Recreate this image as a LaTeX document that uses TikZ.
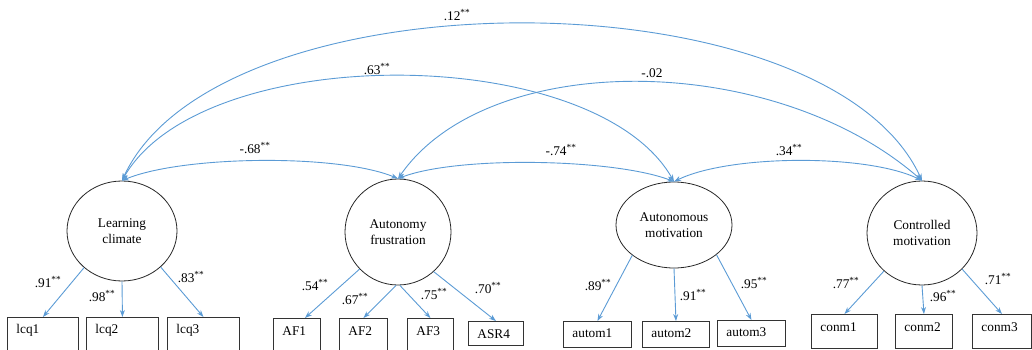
\documentclass[tikz,border=0pt]{standalone}
\usepackage{fontspec}
\setmainfont{Liberation Serif}
\usetikzlibrary{shapes.geometric,arrows.meta,calc}
\definecolor{arr}{RGB}{91,155,213}
\begin{document}
\begin{tikzpicture}[x=1pt,y=-1pt,
  latent/.style={draw=black!85, line width=0.8pt, ellipse, inner sep=0pt, align=center,
    font=\fontsize{13.3}{16}\selectfont},
  ind/.style n args={3}{draw=black!80, line width=0.9pt, rectangle, anchor=north west,
    inner xsep=9pt, inner ysep=0pt, text width=#1, align=left, text height=#2, text depth=#3,
    font=\fontsize{13.3}{16}\selectfont},
  lab/.style={inner sep=0pt, font=\fontsize{13.3}{16}\selectfont},
  load/.style={draw=arr, line width=0.9pt, -{Stealth[length=7pt,width=5pt]}},
  cov/.style={draw=arr, line width=0.9pt, {Stealth[length=7pt,width=5pt]}-{Stealth[length=7pt,width=5pt]}}
]
\useasboundingbox (0,0) rectangle (1032,350);
\clip (0,0) rectangle (1032,350);

% latent variables
\node[latent, minimum width=110pt, minimum height=100pt] (lc) at (122,231) {Learning\\climate};
\node[latent, minimum width=106pt, minimum height=106pt] (af) at (398,232) {Autonomy\\frustration};
\node[latent, minimum width=116pt, minimum height=86pt] (am) at (674,225) {Autonomous\\motivation};
\node[latent, minimum width=110pt, minimum height=104pt] (cm) at (922,233) {Controlled\\motivation};

% indicators
\node[ind={53pt}{16pt}{34pt}] (lcq1) at (7,317) {lcq1};
\node[ind={54pt}{16pt}{34pt}] (lcq2) at (86,317) {lcq2};
\node[ind={54pt}{16pt}{34pt}] (lcq3) at (167,317) {lcq3};
\node[ind={29pt}{17pt}{33pt}] (af1) at (273,318) {AF1};
\node[ind={30pt}{17pt}{33pt}] (af2) at (339,318) {AF2};
\node[ind={28pt}{17pt}{33pt}] (af3) at (407,318) {AF3};
\node[ind={37pt}{17pt}{7pt}] (asr4) at (468,321) {ASR4};
\node[ind={50pt}{16pt}{10pt}] (autom1) at (563,321) {autom1};
\node[ind={49pt}{16pt}{10pt}] (autom2) at (642,321) {autom2};
\node[ind={50pt}{16pt}{10pt}] (autom3) at (717,320) {autom3};
\node[ind={48pt}{17pt}{17pt}] (conm1) at (811,314) {conm1};
\node[ind={39pt}{17pt}{17pt}] (conm2) at (895,314) {conm2};
\node[ind={41pt}{17pt}{17pt}] (conm3) at (972,314) {conm3};

% loadings
\draw[load] (lc.224) -- (lcq1.north);
\draw[load] (lc.270) -- (lcq2.north);
\draw[load] (lc.317) -- (lcq3.north);
\draw[load] (af.224) -- ([xshift=8pt]af1.north);
\draw[load] (af.268) -- (af2.north);
\draw[load] (af.272) -- (af3.north);
\draw[load] (af.312) -- (asr4.north);
\draw[load] (am.216) -- (autom1.north);
\draw[load] (am.270) -- (autom2.north);
\draw[load] (am.325) -- (autom3.north);
\draw[load] (cm.225) -- (conm1.north);
\draw[load] (cm.270) -- (conm2.north);
\draw[load] (cm.318) -- (conm3.north);

% covariances
\draw[cov] (lc.north) .. controls +(60,-25) and +(-60,-25) .. (af.north);
\draw[cov] (af.north) .. controls +(60,-23) and +(-60,-23) .. (am.north);
\draw[cov] (am.north) .. controls +(55,-27) and +(-55,-27) .. (cm.north);
\draw[cov] (lc.north) .. controls +(80,-140) and +(-80,-140) .. (am.north);
\draw[cov] (af.north) .. controls +(90,-130) and +(-149,-130) .. (cm.north);
\draw[cov] (lc.north) .. controls +(96,-209) and +(-96,-209) .. (cm.north);

% covariance labels
\node[lab] (c12) at (457,15) {.12\textsuperscript{**}};
\node[lab] (c63) at (377,69) {.63\textsuperscript{**}};
\node[lab] (c68) at (255,148) {-.68\textsuperscript{**}};
\node[lab] (c74) at (561,150) {-.74\textsuperscript{**}};
\node[lab] (c02) at (652,73) {-.02};
\node[lab] (c34) at (789,150) {.34\textsuperscript{**}};

% loading labels
\node[lab] (l91a) at (48,282) {.91\textsuperscript{**}};
\node[lab] (l98) at (102,296) {.98\textsuperscript{**}};
\node[lab] (l83) at (191,277) {.83\textsuperscript{**}};
\node[lab] (l54) at (315,285) {.54\textsuperscript{**}};
\node[lab] (l67) at (355,299) {.67\textsuperscript{**}};
\node[lab] (l75) at (434,294) {.75\textsuperscript{**}};
\node[lab] (l70) at (488,288) {.70\textsuperscript{**}};
\node[lab] (l89) at (598,285) {.89\textsuperscript{**}};
\node[lab] (l91b) at (693,295) {.91\textsuperscript{**}};
\node[lab] (l95) at (754,283) {.95\textsuperscript{**}};
\node[lab] (l77) at (846,283) {.77\textsuperscript{**}};
\node[lab] (l96) at (943,296) {.96\textsuperscript{**}};
\node[lab] (l71) at (998,279) {.71\textsuperscript{**}};
\end{tikzpicture}
\end{document}
